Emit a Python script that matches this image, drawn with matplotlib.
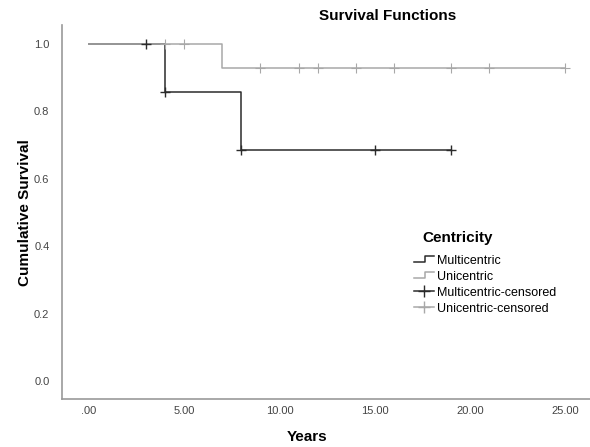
import matplotlib
matplotlib.use('Agg')
import matplotlib.pyplot as plt
from matplotlib.lines import Line2D
from matplotlib.legend_handler import HandlerBase

plt.rcParams['font.family'] = ['Liberation Sans', 'DejaVu Sans']

# Kaplan-Meier step data
multi_times = [0, 4, 8, 19]
multi_surv = [1.0, 0.857, 0.686, 0.686]
multi_cens_t = [3, 4, 8, 15, 19]
multi_cens_s = [1.0, 0.857, 0.686, 0.686, 0.686]

uni_times = [0, 7, 25]
uni_surv = [1.0, 0.929, 0.929]
uni_cens_t = [4, 5, 9, 11, 12, 14, 16, 19, 21, 25]
uni_cens_s = [1.0, 1.0, 0.929, 0.929, 0.929, 0.929, 0.929, 0.929, 0.929, 0.929]

x_ticks = [0, 5, 10, 15, 20, 25]
x_labels = ['.00', '5.00', '10.00', '15.00', '20.00', '25.00']
y_ticks = [0.0, 0.2, 0.4, 0.6, 0.8, 1.0]

c_multi = '#2b2b2b'
c_uni = '#a8a8a8'


class StepHandler(HandlerBase):
    def create_artists(self, legend, orig, xd, yd, w, h, fs, trans):
        xs = [xd, xd + w * 0.55, xd + w * 0.55, xd + w]
        ys = [yd + h * 0.2, yd + h * 0.2, yd + h * 0.9, yd + h * 0.9]
        ln = Line2D(xs, ys, color=orig.get_color(), lw=1.1, transform=trans)
        return [ln]


fig = plt.figure(figsize=(5.9, 4.47), dpi=100)
ax = fig.add_axes([0.105, 0.107, 0.895, 0.837])

ax.step(multi_times, multi_surv, where='post', color=c_multi, lw=1.1)
ax.step(uni_times, uni_surv, where='post', color=c_uni, lw=1.1)
ax.plot(multi_cens_t, multi_cens_s, ls='none', marker='+', ms=7, mew=1.0, color=c_multi)
ax.plot(uni_cens_t, uni_cens_s, ls='none', marker='+', ms=7, mew=0.8, color=c_uni)

ax.set_xlim(-1.42, 26.3)
ax.set_ylim(-0.053, 1.056)
ax.set_xticks(x_ticks)
ax.set_xticklabels(x_labels)
ax.set_yticks(y_ticks)
ax.set_yticklabels(['%.1f' % v for v in y_ticks])
ax.tick_params(length=0, labelsize=8, labelcolor='#444444')
ax.tick_params(axis='x', pad=5)
ax.tick_params(axis='y', pad=9)

for s in ['top', 'right']:
    ax.spines[s].set_visible(False)
for s in ['left', 'bottom']:
    ax.spines[s].set_color('#999999')
    ax.spines[s].set_linewidth(1.2)

ax.set_xlabel('Years', fontsize=11, fontweight='bold')
ax.set_ylabel('Cumulative Survival', fontsize=11, fontweight='bold')
ax.xaxis.set_label_coords(0.465, -0.083)
ax.yaxis.set_label_coords(-0.056, 0.5)
fig.text(0.657, 0.965, 'Survival Functions', ha='center', va='center',
         fontsize=11, fontweight='bold')
fig.text(458 / 590, 1 - 238 / 447, 'Centricity', ha='center', va='center',
         fontsize=11, fontweight='bold')

h_multi = Line2D([], [], color=c_multi)
h_uni = Line2D([], [], color=c_uni)
h_mc = Line2D([], [], color=c_multi, marker='+', ms=9, lw=1.1)
h_uc = Line2D([], [], color=c_uni, marker='+', ms=9, lw=1.1)
leg = ax.legend([h_multi, h_uni, h_mc, h_uc],
                ['Multicentric', 'Unicentric', 'Multicentric-censored', 'Unicentric-censored'],
                handler_map={h_multi: StepHandler(), h_uni: StepHandler()},
                frameon=False, fontsize=9,
                loc='upper left', bbox_to_anchor=(0.655, 0.403), borderpad=0,
                handlelength=1.6, handletextpad=0.2, labelspacing=0.32)

fig.savefig('out.png', dpi=100)
